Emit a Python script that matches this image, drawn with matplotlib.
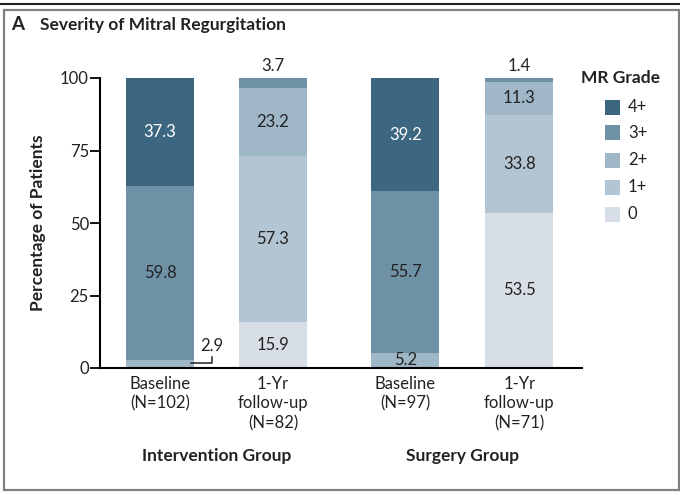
import matplotlib
matplotlib.use("Agg")
import matplotlib.pyplot as plt
from matplotlib.patches import Rectangle
from matplotlib.lines import Line2D

plt.rcParams['font.family'] = ['Lato', 'DejaVu Sans']

# ---- data ----
bar_labels = ["Baseline\n(N=102)", "1-Yr\nfollow-up\n(N=82)", "Baseline\n(N=97)", "1-Yr\nfollow-up\n(N=71)"]
group_labels = ["Intervention Group", "Surgery Group"]
grades = ["0", "1+", "2+", "3+", "4+"]
grade0 = [0.0, 15.9, 0.0, 53.5]
grade1 = [0.0, 57.3, 0.0, 33.8]
grade2 = [2.9, 23.2, 5.2, 11.3]
grade3 = [59.8, 3.7, 55.7, 1.4]
grade4 = [37.3, 0.0, 39.2, 0.0]
yticks = [0, 25, 50, 75, 100]

series = [grade0, grade1, grade2, grade3, grade4]
colors = ["#d8dee5", "#b3c5d2", "#a0b7c8", "#6f91a6", "#3d6680"]
text_colors = ["#222222", "#222222", "#222222", "#222222", "#ffffff"]

# ---- layout ----
positions = [0, 1, 2.17, 3.18]
width = 0.6
FS = 12          # regular text
FSB = 12.5       # bold text

fig = plt.figure(figsize=(6.8, 4.95), dpi=100)
W, H = 680, 495

# frame
fig.add_artist(Line2D([0, 1], [1 - 4 / H, 1 - 4 / H], color="#222222", lw=1.5, transform=fig.transFigure))
fig.add_artist(Rectangle((4 / W, 1 - 490 / H), 675 / W, 480 / H, transform=fig.transFigure,
                         fill=False, ec="#808080", lw=1.6))

ax = fig.add_axes([100 / W, 1 - 368 / H, 482 / W, 290 / H])
bottom = [0.0] * 4
for s, (vals, c) in enumerate(zip(series, colors)):
    ax.bar(positions, vals, width=width, bottom=bottom, color=c, edgecolor="none", zorder=2)
    bottom = [b + v for b, v in zip(bottom, vals)]

ax.set_ylim(0, 100)
ax.set_xlim(-0.531, 3.735)
ax.set_yticks(yticks)
ax.set_yticklabels([str(t) for t in yticks], fontsize=FS, color="#222222")
ax.tick_params(axis="y", length=7, width=1.3, pad=1)
ax.set_xticks([])
for sp in ["top", "right"]:
    ax.spines[sp].set_visible(False)
ax.spines["left"].set_linewidth(1.5)
ax.spines["bottom"].set_linewidth(1.5)
ax.set_ylabel("Percentage of Patients", fontsize=FSB, fontweight="bold", labelpad=10, color="#222222")

# segment labels
for i, x in enumerate(positions):
    base = 0.0
    for s, vals in enumerate(series):
        v = vals[i]
        if v > 0:
            mid = base + v / 2
            if v >= 10:
                ax.text(x, mid, f"{v:.1f}", ha="center", va="center", fontsize=FS,
                        color=text_colors[s], zorder=3)
            elif s == 2 and i == 2:
                ax.text(x, mid + 0.3, f"{v:.1f}", ha="center", va="center", fontsize=FS,
                        color="#222222", zorder=3)
            elif s == 2 and i == 0:
                ax.plot([x + 0.27, x + 0.46, x + 0.46], [mid + 0.2, mid + 0.2, mid + 2.2],
                        color="#222222", lw=1.1, clip_on=False, zorder=3)
                ax.text(x + 0.46, mid + 3.3, f"{v:.1f}", ha="center", va="bottom", fontsize=FS,
                        color="#222222", zorder=3)
            else:
                ax.text(x, base + v + 1.4, f"{v:.1f}", ha="center", va="bottom", fontsize=FS,
                        color="#222222", zorder=3)
        base += v

# x labels
for x, lab in zip(positions, bar_labels):
    ax.text(x, -2.6, lab, ha="center", va="top", fontsize=FS, color="#222222",
            linespacing=1.3, clip_on=False)
for gx, glab in zip([(positions[0] + positions[1]) / 2, (positions[2] + positions[3]) / 2], group_labels):
    ax.text(gx, -27.6, glab, ha="center", va="top", fontsize=FSB, fontweight="bold",
            color="#222222", clip_on=False)

# title
fig.text(11 / W, 1 - 25 / H, "A", fontsize=13.5, fontweight="bold", va="center", ha="left", color="#222222")
fig.text(40 / W, 1 - 25 / H, "Severity of Mitral Regurgitation", fontsize=12.5, fontweight="bold",
         va="center", ha="left", color="#222222")

# legend
fig.text(581 / W, 1 - 78 / H, "MR Grade", fontsize=FSB, fontweight="bold", va="center", ha="left",
         color="#222222")
leg_y = [107, 133, 160, 187, 214]
for g, c, yy in zip(grades[::-1], colors[::-1], leg_y):
    fig.add_artist(Rectangle((605 / W, 1 - (yy + 7.5) / H), 15 / W, 15 / H, transform=fig.transFigure,
                             fc=c, ec="none"))
    fig.text(628 / W, 1 - yy / H, g, fontsize=FS, va="center", ha="left", color="#222222")

fig.savefig("out.png", dpi=100)
